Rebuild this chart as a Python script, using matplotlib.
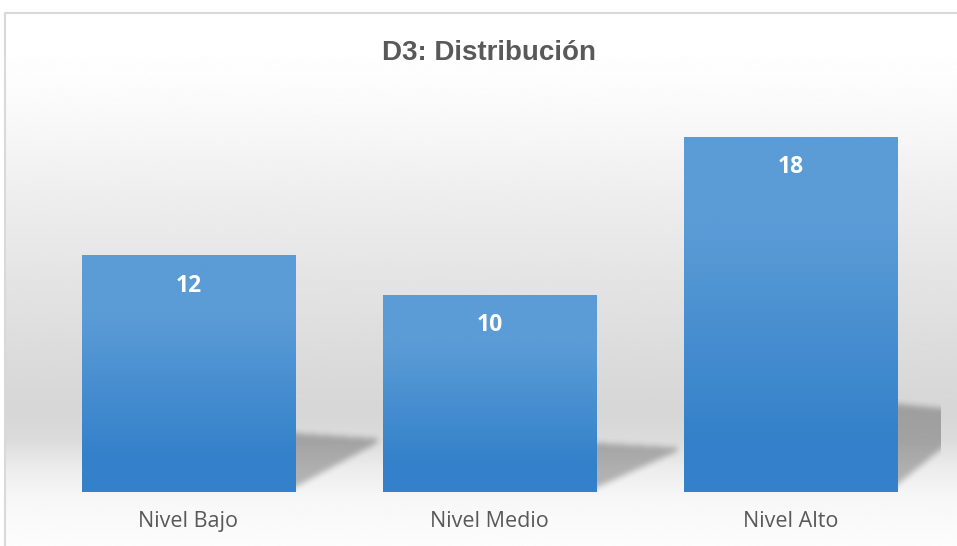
import numpy as np
import matplotlib.pyplot as plt
from matplotlib.colors import LinearSegmentedColormap
from matplotlib.patches import Rectangle
from matplotlib.path import Path

categories = ["Nivel Bajo", "Nivel Medio", "Nivel Alto"]
values = [12, 10, 18]
title = "D3: Distribución"

bar_top = "#5b9cd6"
bar_bottom = "#3481ca"
text_grey = "#595959"
border_grey = "#d9d9d9"

W, H = 957, 546
fig = plt.figure(figsize=(W / 100, H / 100), dpi=100)

# chart area background: vertical grey gradient (stops read in pixels from the top)
bg = fig.add_axes([4 / W, 0, 1, (H - 12) / H], zorder=0)
stop_px = [12, 70, 130, 200, 300, 370, 410, 440, 470, 500, 546]
stop_val = [1.0, 0.995, 0.97, 0.93, 0.885, 0.855, 0.84, 0.86, 0.93, 0.97, 0.99]
rows = np.linspace(12, H, 600)
shade = np.interp(rows, stop_px, stop_val).reshape(-1, 1)
bg.imshow(np.repeat(shade, 2, axis=1), cmap="gray", vmin=0, vmax=1,
          aspect="auto", interpolation="bicubic", extent=(0, 1, 0, 1))
bg.set_axis_off()

ax = fig.add_axes([38 / W, (H - 492) / H, 903 / W, 385 / H], zorder=1)
ax.patch.set_alpha(0)
x = np.arange(len(categories))
bars = ax.bar(x, values, width=0.71, color=bar_bottom, zorder=3)

# gradient fill on each bar
grad = np.linspace(0, 1, 256).reshape(-1, 1)
cmap = LinearSegmentedColormap.from_list(
    "bar", [(0, bar_top), (0.25, bar_top), (0.85, bar_bottom), (1, bar_bottom)])
for b in bars:
    x0, w, h = b.get_x(), b.get_width(), b.get_height()
    im = ax.imshow(grad, cmap=cmap, extent=(x0, x0 + w, 0, h), origin="upper",
                   aspect="auto", interpolation="bicubic", zorder=3)
    im.set_clip_path(b)


def box_blur(a, n):
    k = np.ones(n) / n
    a = np.apply_along_axis(lambda r: np.convolve(r, k, mode="same"), 0, a)
    return np.apply_along_axis(lambda r: np.convolve(r, k, mode="same"), 1, a)


# soft perspective shadow to the right of each bar
for b in bars:
    xr, h = b.get_x() + b.get_width(), b.get_height()
    s, L = 0.25 * h, 0.27
    verts = [(xr - 0.03, 0), (xr - 0.03, s), (xr + L, 0.9 * s), (xr + L, 0.82 * s)]
    gx = np.arange(xr - 0.06, xr + L + 0.08, 1 / 301)
    gy = np.arange(-1.0, s + 1.0, 1 / 19.75)
    XX, YY = np.meshgrid(gx, gy)
    mask = Path(verts).contains_points(np.c_[XX.ravel(), YY.ravel()]).reshape(XX.shape)
    alpha = box_blur(box_blur(mask.astype(float), 7), 7)
    rgba = np.zeros(mask.shape + (4,))
    rgba[..., 3] = alpha * 0.26
    ax.imshow(rgba, extent=(gx[0], gx[-1], gy[0], gy[-1]), origin="lower",
              aspect="auto", interpolation="bilinear", zorder=2)

for xi, v in zip(x, values):
    ax.annotate(str(v), (xi, v), xytext=(0, -22), textcoords="offset points",
                ha="center", va="center", color="white", fontsize=16.5,
                fontweight="bold", family="Open Sans", zorder=5)

ax.set_xlim(-0.5, len(categories) - 0.5)
ax.set_ylim(0, 19.5)
ax.set_xticks(x, categories)
ax.tick_params(axis="x", length=0, pad=14, labelsize=15.5, labelcolor=text_grey)
for lab in ax.get_xticklabels():
    lab.set_fontfamily("Open Sans")
ax.set_yticks([])
for sp in ax.spines.values():
    sp.set_visible(False)

fig.text(489.5 / W, 1 - 60 / H, title, ha="center", va="baseline", fontsize=20,
         fontweight="bold", color=text_grey, family="Liberation Sans")

fig.add_artist(Rectangle((4.5 / W, -0.1), 1.2, (H - 12.5) / H + 0.1,
                         transform=fig.transFigure, fill=False,
                         edgecolor=border_grey, lw=1.5, zorder=10))

fig.savefig("out.png", dpi=100)
